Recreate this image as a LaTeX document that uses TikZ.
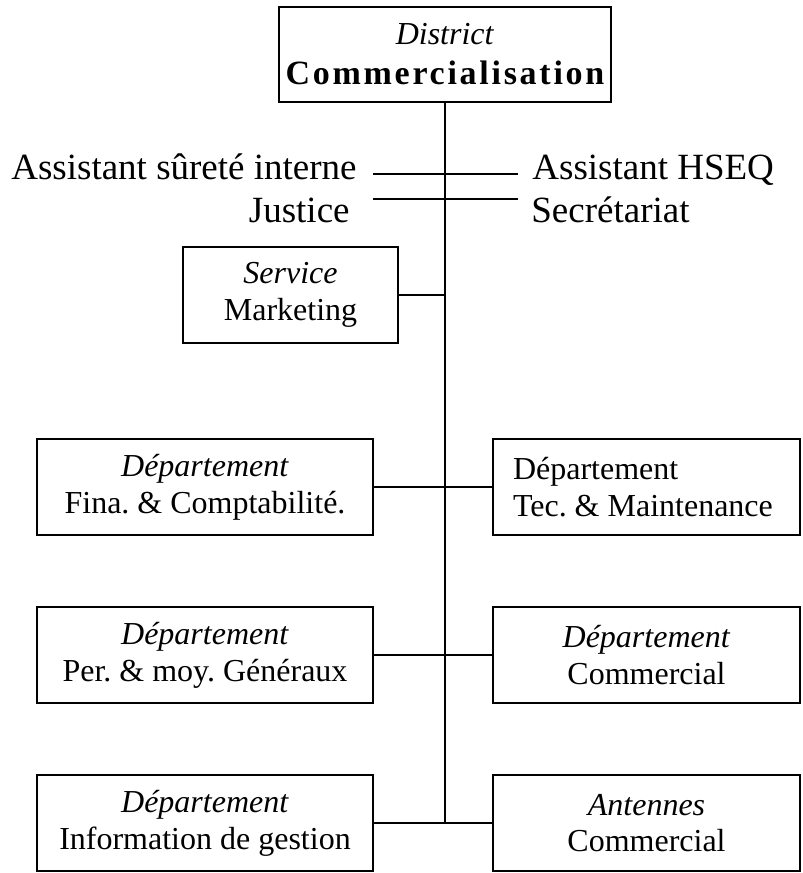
\documentclass[tikz,border=0pt]{standalone}
\usepackage{fontspec}
\setmainfont{Liberation Serif}
\newfontfamily\widebold{Liberation Serif}[LetterSpace=8]

\begin{document}
\frenchspacing
\begin{tikzpicture}[x=0.5pt, y=-0.5pt,
  orgbox/.style={draw, line width=1pt, minimum height=48pt, align=center,
    inner sep=0pt, font=\fontsize{16}{18.4}\selectfont},
  sidelabel/.style={inner sep=0pt, font=\fontsize{18.5}{21}\selectfont},
  link/.style={line width=1pt}]

  \useasboundingbox (0,0) rectangle (803,873);

  % head of the district
  \node[orgbox, minimum width=166pt, minimum height=47.5pt,
        font=\fontsize{16}{20}\selectfont] (district) at (445,54.5)
        {\textit{District}\\{\fontsize{17}{20}\selectfont\widebold\bfseries Commercialisation}};

  % staff positions attached to the trunk
  \coordinate (a1) at (373,174);
  \coordinate (a2) at (518,174);
  \coordinate (b1) at (373,199);
  \coordinate (b2) at (518,199);
  \node[sidelabel, anchor=base east] (surete) at (357,179) {Assistant sûreté interne};
  \node[sidelabel, anchor=base east] (justice) at (350,222) {Justice};
  \node[sidelabel, anchor=base west] (hseq) at (532,179) {Assistant HSEQ};
  \node[sidelabel, anchor=base west] (secretariat) at (531,222) {Secrétariat};

  % service and departments
  \node[orgbox, minimum width=107.5pt] (marketing) at (290.5,295)
        {\textit{Service}\\Marketing};
  \node[orgbox, minimum width=168pt] (fina) at (205,487)
        {\textit{Département}\\Fina. \& Comptabilité.};
  \node[orgbox, minimum width=153.5pt, text width=133.5pt, align=flush left,
        inner xsep=10pt] (tec) at (646.5,487)
        {\mbox{Département}\\\mbox{Tec. \& Maintenance}};
  \node[orgbox, minimum width=168pt] (pers) at (205,655)
        {\textit{Département}\\Per. \& moy. Généraux};
  \node[orgbox, minimum width=153.5pt] (comm) at (646.5,655)
        {\textit{Département}\\Commercial};
  \node[orgbox, minimum width=168pt] (info) at (205,823)
        {\textit{Département}\\Information de gestion};
  \node[orgbox, minimum width=153.5pt] (antennes) at (646.5,823)
        {\textit{Antennes}\\Commercial};

  % trunk and branches
  \coordinate (trunkend) at (445,823);
  \draw[link] (district.south) -- (trunkend);
  \draw[link] (a1) -- (a2);
  \draw[link] (b1) -- (b2);
  \draw[link] (marketing.east) -- (marketing.east -| trunkend);
  \draw[link] (fina.east) -- (tec.west);
  \draw[link] (pers.east) -- (comm.west);
  \draw[link] (info.east) -- (antennes.west);
\end{tikzpicture}
\end{document}
